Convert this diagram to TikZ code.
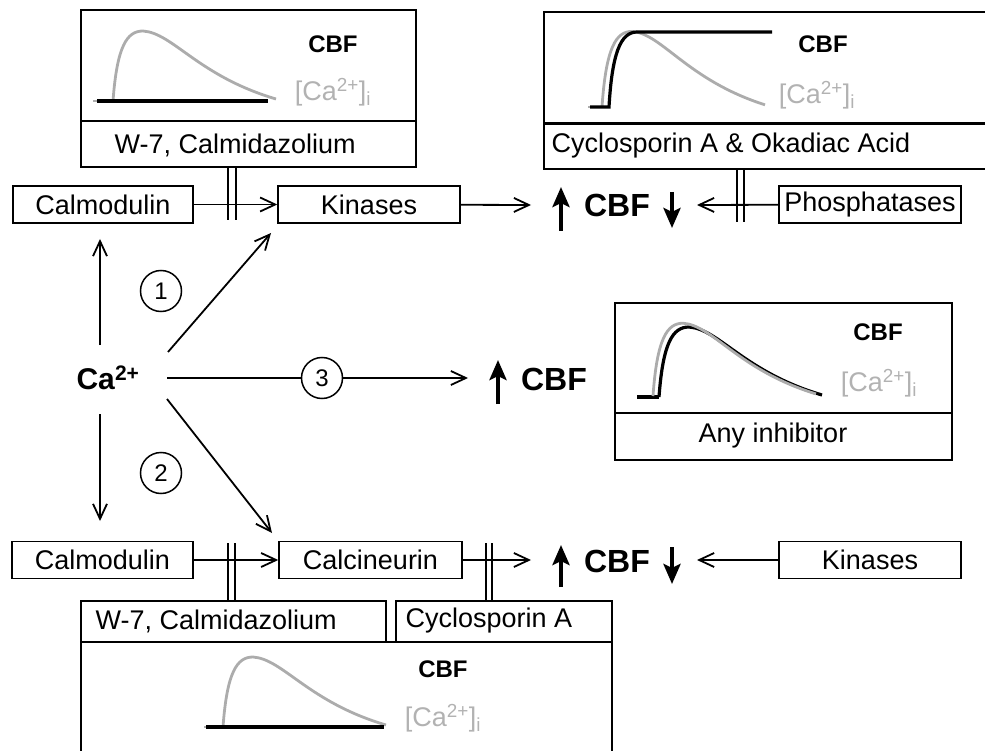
\documentclass[tikz,border=0pt]{standalone}
\usepackage{fontspec}
\setmainfont{Liberation Sans}
\usetikzlibrary{arrows.meta,calc}
\begin{document}
\begin{tikzpicture}[x=1pt,y=-1pt,
  lab/.style={font=\fontsize{27}{31}\selectfont},
  sbox/.style={draw,line width=1.5pt,minimum height=37pt,inner sep=0pt,lab},
  bigbox/.style={line width=2.2pt},
  arr/.style={line width=1.8pt,-{Straight Barb[length=15pt,width=14pt,line width=1.8pt]}},
  bigarr/.style={line width=4.5pt,-{Stealth[length=20pt,width=17pt,inset=4pt]}},
  bar/.style={line width=1.7pt},
  cbfb/.style={font=\fontsize{32}{36}\selectfont\bfseries},
  cbfs/.style={font=\fontsize{24}{27}\selectfont\bfseries},
  cai/.style={font=\fontsize{27}{30}\selectfont,text=gray!60},
  circ/.style={draw,circle,line width=1.5pt,minimum size=41pt,inner sep=0pt,font=\fontsize{24}{26}\selectfont},
  grayc/.style={gray!65,line width=2.8pt},
  blackc/.style={black,line width=3.2pt},
  ca curve/.pic={\draw[pic actions] (0,0) .. controls (4,-55) and (14,-70) .. (30,-70) .. controls (60,-68) and (85,-25) .. (163,-2);},
]
\useasboundingbox (0,0) rectangle (985,751);

% ---------- top-left box (W-7, Calmidazolium) ----------
\draw[bigbox] (81,10) rectangle (416,167);
\draw[bigbox] (81,121) -- (416,121);
\node[lab,anchor=west] (w7a) at (111,145) {W-7, Calmidazolium};
\draw[grayc] (93,101) -- (113,101);
\pic[grayc] at (113,101) {ca curve};
\draw[blackc] (97,101) -- (268,101);
\node[cbfs] (cbfa) at (333,44.5) {CBF};
\node[cai] (caia) at (333,92) {[Ca\textsuperscript{2+}]\textsubscript{i}};

% ---------- top-right box (Cyclosporin A & Okadiac Acid) ----------
\draw[bigbox] (990,12) -- (544,12) -- (544,169) -- (990,169);
\draw[bigbox] (544,123.5) -- (990,123.5);
\node[lab,anchor=west] (csoa) at (548,146) {Cyclosporin A \& Okadiac Acid};
\draw[grayc] (588,107) -- (602,107);
\pic[grayc,yscale=1.08] at (602,107) {ca curve};
\draw[blackc] (590,107) -- (609,107) .. controls (612,55) and (620,32) .. (637,32) -- (772,32);
\node[cbfs] (cbfb) at (823,44.5) {CBF};
\node[cai] (caib) at (817,95) {[Ca\textsuperscript{2+}]\textsubscript{i}};

% ---------- any inhibitor box ----------
\draw[bigbox] (615,303) rectangle (952,460);
\draw[bigbox] (615,413) -- (952,413);
\node[lab] (anyi) at (773,436) {Any inhibitor};
\draw[blackc] (637,397) -- (659,397);
\pic[blackc] at (659,397) {ca curve};
\pic[grayc,yscale=1.04] at (653,396) {ca curve};
\node[cbfs] (cbfc) at (878,332) {CBF};
\node[cai] (caic) at (879,383) {[Ca\textsuperscript{2+}]\textsubscript{i}};

% ---------- bottom boxes ----------
\draw[bigbox] (81,601) rectangle (386,642);
\node[lab,anchor=west] (w7b) at (92,621) {W-7, Calmidazolium};
\draw[bigbox] (396,601) rectangle (612,642);
\node[lab,anchor=west] (csb) at (402,621) {Cyclosporin A};
\draw[bigbox] (81,760) -- (81,642) -- (612,642) -- (612,760);
\draw[grayc] (204,727) -- (223,727);
\pic[grayc] at (223,727) {ca curve};
\draw[blackc] (206,727) -- (384,727);
\node[cbfs] (cbfd) at (443,669) {CBF};
\node[cai] (caid) at (443,718) {[Ca\textsuperscript{2+}]\textsubscript{i}};

% ---------- small boxes ----------
\node[sbox,minimum width=180pt] (calm1) at (103,204.5) {Calmodulin};
\node[sbox,minimum width=182pt] (kin1) at (369,204.5) {Kinases};
\node[sbox,minimum width=182pt] (phos) at (870,204.5) {Phosphatases};
\node[sbox,minimum width=181pt] (calm2) at (102.5,560) {Calmodulin};
\node[sbox,minimum width=183pt] (calc) at (370.5,560) {Calcineurin};
\node[sbox,minimum width=182pt] (kin2) at (870,560) {Kinases};

% ---------- CBF rows ----------
\node[cbfb] (cbf1) at (617,205) {CBF};
\node[cbfb] (cbf2) at (617,561) {CBF};
\node[cbfb] (cbf3) at (554,379) {CBF};
\coordinate (u1a) at (561,231); \coordinate (u1b) at (561,187);
\coordinate (d1a) at (672,192); \coordinate (d1b) at (672,228);
\coordinate (u2a) at (561,587); \coordinate (u2b) at (561,545);
\coordinate (d2a) at (672,547); \coordinate (d2b) at (672,584);
\coordinate (u3a) at (498,404); \coordinate (u3b) at (498,360);
\draw[bigarr] (u1a) -- (u1b);
\draw[bigarr] (d1a) -- (d1b);
\draw[bigarr] (u2a) -- (u2b);
\draw[bigarr] (d2a) -- (d2b);
\draw[bigarr] (u3a) -- (u3b);

\coordinate (t1) at (531,205);
\coordinate (t1b) at (697,205);
\coordinate (t2) at (531,560);
\coordinate (t2b) at (697,560);
\coordinate (t3) at (468,378);

\draw[arr] (calm1) -- (kin1);
\draw[arr] (kin1) -- (t1);
\draw[arr] (phos) -- (t1b);
\draw[arr] (calm2) -- (calc);
\draw[arr] (calc) -- (t2);
\draw[arr] (kin2) -- (t2b);

% inhibition bars
\draw[bar] (228,167) -- (228,220);
\draw[bar] (236,167) -- (236,220);
\draw[bar] (737,169) -- (737,222);
\draw[bar] (744,169) -- (744,222);
\draw[bar] (228,543) -- (228,601);
\draw[bar] (235,543) -- (235,601);
\draw[bar] (486,543) -- (486,601);
\draw[bar] (492,543) -- (492,601);

% ---------- Ca2+ hub ----------
\node[font=\fontsize{30}{34}\selectfont] (ca) at (108,378) {\textbf{Ca}\textsuperscript{\textbf{2+}}};
\coordinate (caN) at (100,345);
\coordinate (caS) at (100,414);
\coordinate (ca1) at (168,352);
\coordinate (ca2) at (167,399);
\coordinate (ca3) at (167,378);
\coordinate (k1t) at (271,233);
\coordinate (c2t) at (272,533);
\coordinate (cm1t) at (100,239);
\coordinate (cm2t) at (100,521);
\draw[arr] (caN) -- (cm1t);
\draw[arr] (caS) -- (cm2t);
\draw[arr] (ca1) -- (k1t);
\draw[arr] (ca2) -- (c2t);
\node[circ] (n1) at (161,291) {1};
\node[circ] (n2) at (161,473) {2};
\node[circ] (n3) at (322,378) {3};
\draw[line width=1.8pt] (ca3) -- (n3);
\draw[arr] (n3) -- (t3);
\end{tikzpicture}
\end{document}
